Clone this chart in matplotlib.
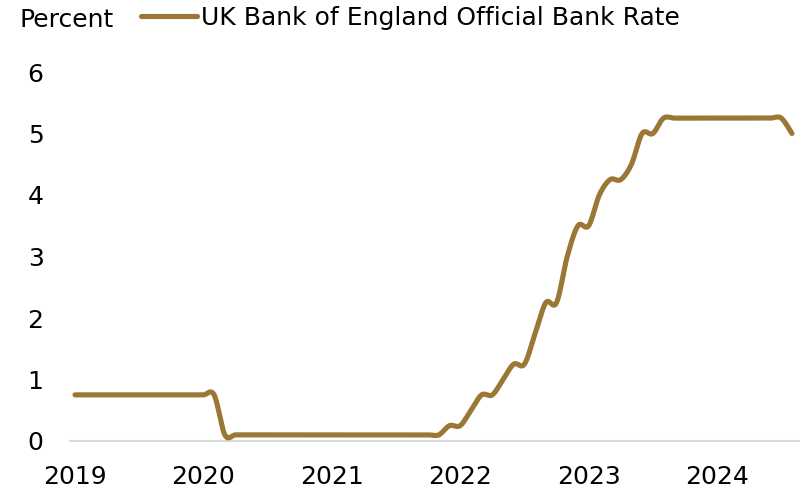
import numpy as np
import matplotlib
matplotlib.use("Agg")
import matplotlib.pyplot as plt

# month-end Bank Rate, Jan 2019 .. Aug 2024
rate_2019 = [0.75] * 12
rate_2020 = [0.75, 0.75] + [0.1] * 10
rate_2021 = [0.1] * 11 + [0.25]
rate_2022 = [0.25, 0.5, 0.75, 0.75, 1.0, 1.25, 1.25, 1.75, 2.25, 2.25, 3.0, 3.5]
rate_2023 = [3.5, 4.0, 4.25, 4.25, 4.5, 5.0, 5.0, 5.25, 5.25, 5.25, 5.25, 5.25]
rate_2024 = [5.25] * 7 + [5.0]
years = ["2019", "2020", "2021", "2022", "2023", "2024"]

rate = np.array(rate_2019 + rate_2020 + rate_2021 + rate_2022 + rate_2023 + rate_2024)
month = np.arange(len(rate))

COL = "#9A7735"


def smooth(x, y, n=24):
    # excel-style smoothed line (cubic bezier, catmull-rom control points)
    px = np.concatenate([[x[0]], x, [x[-1]]])
    py = np.concatenate([[y[0]], y, [y[-1]]])
    t = np.linspace(0, 1, n, endpoint=False)[:, None]
    xs, ys = [], []
    for i in range(1, len(px) - 2):
        p0 = np.array([px[i], py[i]])
        p3 = np.array([px[i + 1], py[i + 1]])
        c1 = p0 + (np.array([px[i + 1], py[i + 1]]) - np.array([px[i - 1], py[i - 1]])) / 6
        c2 = p3 - (np.array([px[i + 2], py[i + 2]]) - np.array([px[i], py[i]])) / 6
        b = (1 - t) ** 3 * p0 + 3 * (1 - t) ** 2 * t * c1 + 3 * (1 - t) * t ** 2 * c2 + t ** 3 * p3
        xs.append(b[:, 0])
        ys.append(b[:, 1])
    xs.append([x[-1]])
    ys.append([y[-1]])
    return np.concatenate(xs), np.concatenate(ys)


plt.rcParams["font.family"] = ["DejaVu Sans"]
plt.rcParams["font.size"] = 18

fig = plt.figure(figsize=(8, 4.88), dpi=100)
ax = fig.add_axes([70 / 800, 47 / 488, 729 / 800, 369 / 488])

sx, sy = smooth(month, rate)
ax.plot(sx, sy, color=COL, lw=3.7, solid_capstyle="round",
        label="UK Bank of England Official Bank Rate")

ax.set_xlim(-0.47, 67.66)
ax.set_ylim(0, 6)
ax.set_xticks(np.arange(len(years)) * 12)
ax.set_xticklabels(years)
ax.set_yticks(range(0, 7))
ax.tick_params(axis="x", length=0, pad=17, labelsize=18)
ax.tick_params(axis="y", length=0, pad=19, labelsize=18)

for s in ["top", "right", "left"]:
    ax.spines[s].set_visible(False)
ax.spines["bottom"].set_color("#D9D9D9")
ax.spines["bottom"].set_linewidth(1.5)
ax.spines["bottom"].set_zorder(0)

fig.text(20 / 800, 1 - 27 / 488, "Percent", fontsize=18, va="baseline", ha="left")
ax.legend(loc="center left", bbox_to_anchor=(141 / 800, 1 - 18 / 488),
          bbox_transform=fig.transFigure, frameon=False, fontsize=18,
          handlelength=2.24, handletextpad=0.16, borderpad=0, borderaxespad=0)

fig.savefig("out.png", dpi=100)
